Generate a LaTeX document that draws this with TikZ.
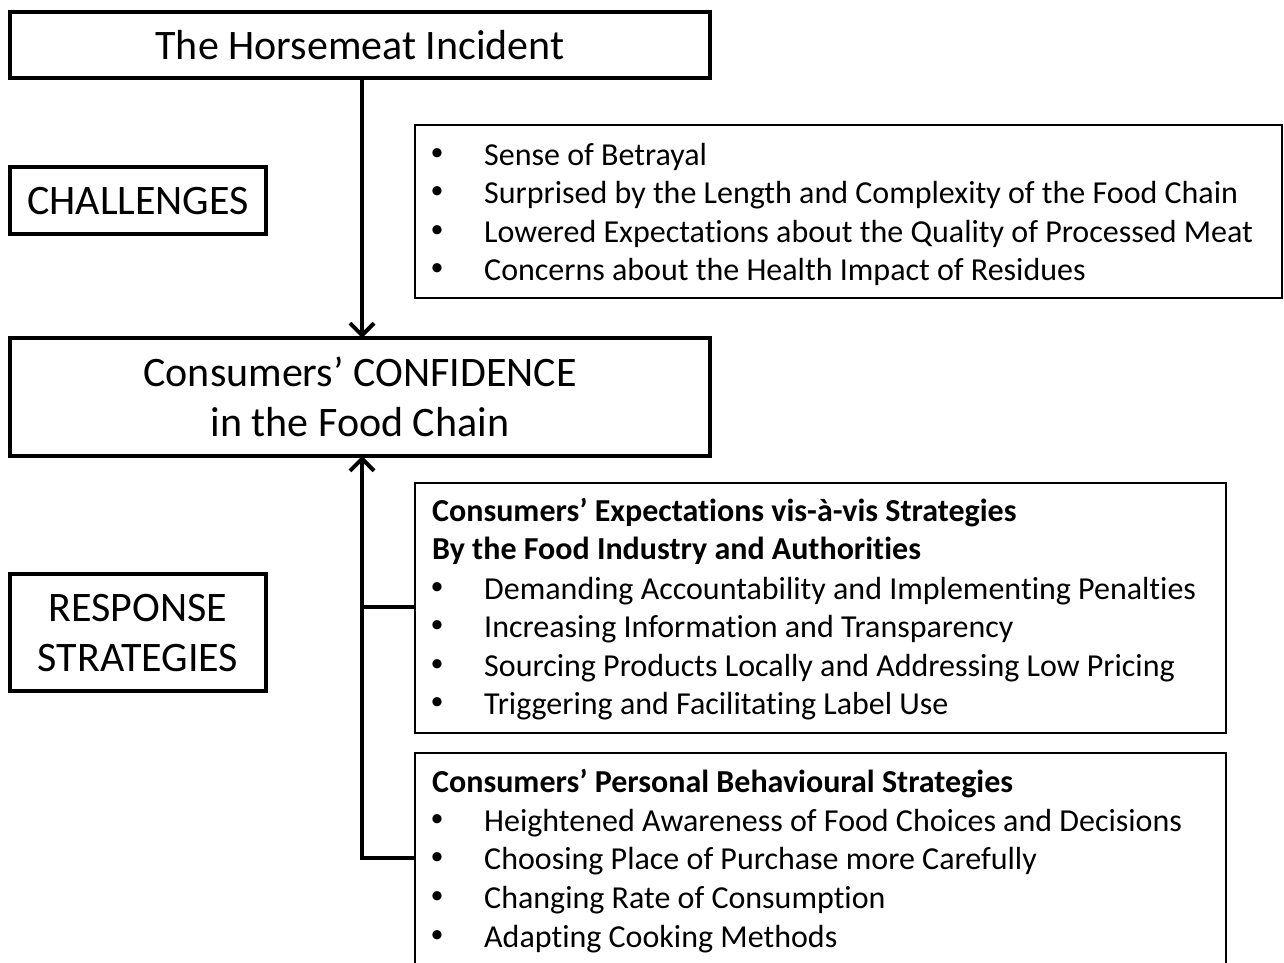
\documentclass[tikz,border=0pt]{standalone}
\usepackage{fontspec}
\setmainfont{Carlito}[RawFeature=-liga]
\usetikzlibrary{arrows.meta}
\tikzset{
  mainbox/.style={draw, line width=4pt},
  listbox/.style={draw, line width=2pt},
  conn/.style={line width=4pt},
  arr/.style={line width=4pt, -{Straight Barb[length=12pt,width=24pt,line width=4pt]}},
  item/.style={anchor=base west, inner sep=0pt, yshift=-10pt, font=\fontsize{32}{38}\selectfont},
  head/.style={anchor=base west, inner sep=0pt, yshift=-10pt, font=\fontsize{32}{38}\selectfont\bfseries},
  bul/.style={anchor=center, inner sep=0pt, font=\fontsize{26}{30}\selectfont},
  big/.style={inner sep=0pt, align=center, font=\fontsize{42}{50}\selectfont}
}
\begin{document}
\begin{tikzpicture}[x=1pt,y=-1pt]
\useasboundingbox (0,0) rectangle (1284,963);
% main boxes
\draw[mainbox] (10,12) rectangle (710,78);
\node[big] (title) at (360,45) {The Horsemeat Incident};
\draw[mainbox] (10,167) rectangle (266,234);
\node[big] (chal) at (138,201) {CHALLENGES};
\draw[mainbox] (10,338) rectangle (710,456);
\node[big] (conf) at (360,397) {Consumers’ CONFIDENCE\\in the Food Chain};
\draw[mainbox] (10,574) rectangle (266,691);
\node[big] (resp) at (138,633) {RESPONSE\\STRATEGIES};
% coordinates
\coordinate (tb) at (362,78);
\coordinate (ct) at (362,338);
\coordinate (cb) at (362,456);
\coordinate (j1) at (362,607);
\coordinate (j2) at (362,858);
\coordinate (e1) at (415,607);
\coordinate (e2) at (415,858);
% list boxes
\draw[listbox] (415,125) rectangle (1282,298);
\draw[listbox] (415,483) rectangle (1226,733);
\draw[listbox] (415,975) -- (415,753) -- (1226,753) -- (1226,975);
% connectors
\draw[arr] (tb) -- (ct);
\draw[conn] (e2) -- (j2) -- (j1);
\draw[arr] (j1) -- (cb);
\draw[conn] (e1) -- (j1);
% list 1
\node[bul] (b11) at (437,155) {•}; \node[item] (t11) at (484,155) {Sense of Betrayal};
\node[bul] (b12) at (437,193) {•}; \node[item] (t12) at (484,193) {Surprised by the Length and Complexity of the Food Chain};
\node[bul] (b13) at (437,232) {•}; \node[item] (t13) at (484,232) {Lowered Expectations about the Quality of Processed Meat};
\node[bul] (b14) at (437,270) {•}; \node[item] (t14) at (484,270) {Concerns about the Health Impact of Residues};
% list 2
\node[head] (h21) at (432,511) {Consumers’ Expectations vis-à-vis Strategies};
\node[head] (h22) at (432,549) {By the Food Industry and Authorities};
\node[bul] (b21) at (437,589) {•}; \node[item] (t21) at (484,589) {Demanding Accountability and Implementing Penalties};
\node[bul] (b22) at (437,627) {•}; \node[item] (t22) at (484,627) {Increasing Information and Transparency};
\node[bul] (b23) at (437,666) {•}; \node[item] (t23) at (484,666) {Sourcing Products Locally and Addressing Low Pricing};
\node[bul] (b24) at (437,704) {•}; \node[item] (t24) at (484,704) {Triggering and Facilitating Label Use};
% list 3
\node[head] (h31) at (432,782) {Consumers’ Personal Behavioural Strategies};
\node[bul] (b31) at (437,821) {•}; \node[item] (t31) at (484,821) {Heightened Awareness of Food Choices and Decisions};
\node[bul] (b32) at (437,859) {•}; \node[item] (t32) at (484,859) {Choosing Place of Purchase more Carefully};
\node[bul] (b33) at (437,898) {•}; \node[item] (t33) at (484,898) {Changing Rate of Consumption};
\node[bul] (b34) at (437,937) {•}; \node[item] (t34) at (484,937) {Adapting Cooking Methods};
\end{tikzpicture}
\end{document}
